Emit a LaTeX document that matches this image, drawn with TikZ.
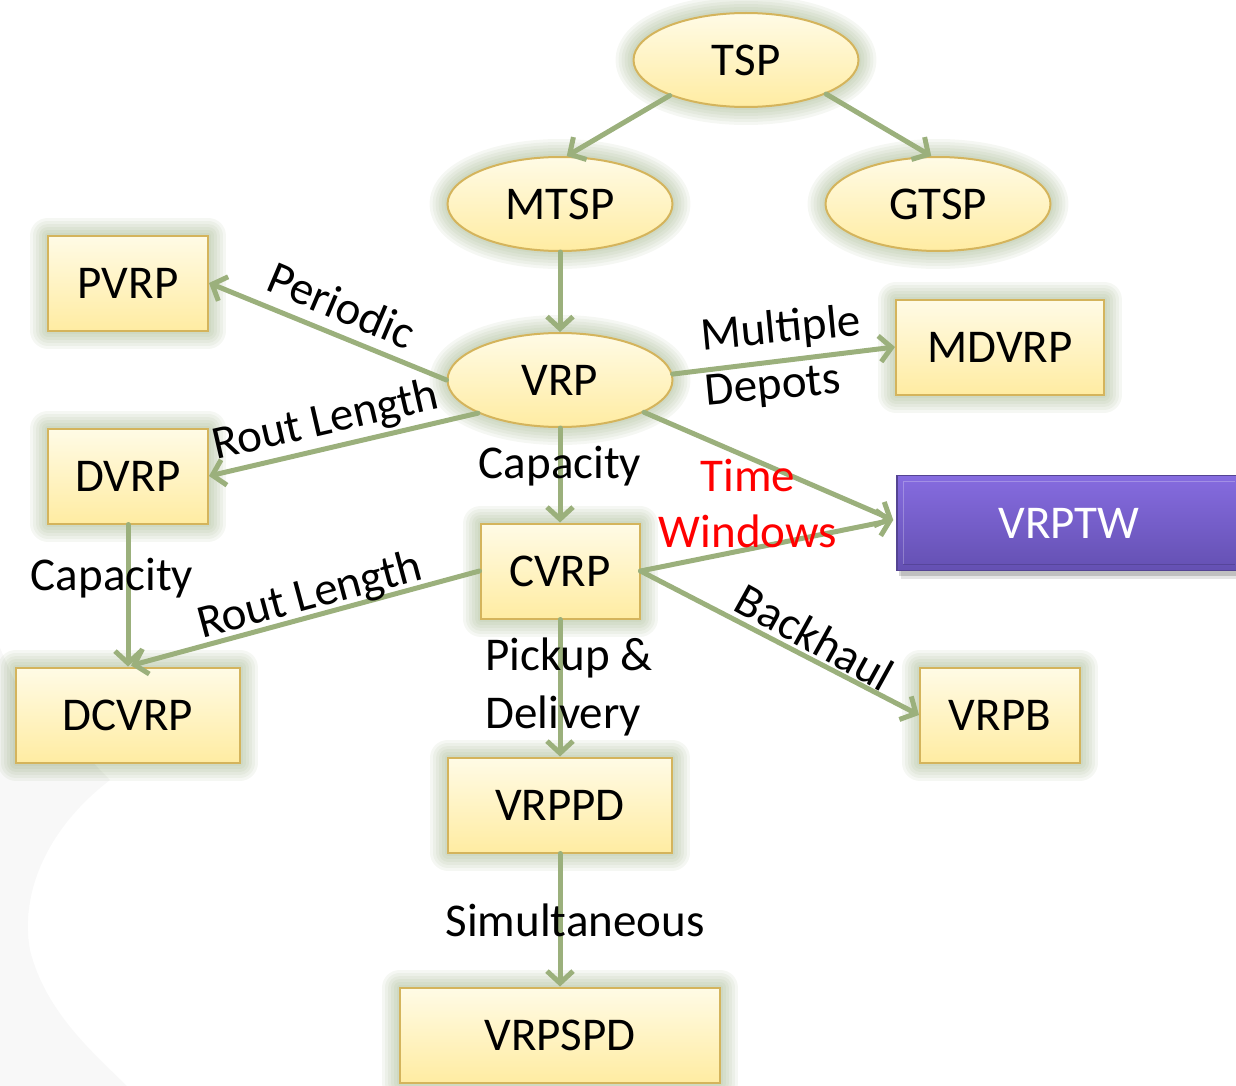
\documentclass[tikz,border=0pt]{standalone}
\usepackage{fontspec}
\setmainfont{Carlito}
\usetikzlibrary{shapes.geometric,arrows.meta,calc}

\definecolor{edgec}{RGB}{155,176,124}
\definecolor{glowc}{RGB}{130,155,100}
\definecolor{nodetop}{RGB}{255,251,230}
\definecolor{nodebot}{RGB}{255,236,162}
\definecolor{nodeborder}{RGB}{212,180,92}
\definecolor{ptop}{RGB}{134,108,224}
\definecolor{pbot}{RGB}{100,80,178}
\definecolor{pborder}{RGB}{84,68,146}
\definecolor{wash}{RGB}{248,248,248}
\definecolor{timered}{RGB}{255,0,0}

\begin{document}
\begin{tikzpicture}[x=1pt,y=-1pt,
  every node/.style={font=\fontsize{47}{56}\selectfont, inner sep=0pt},
  halo/.style={preaction={draw=glowc,line join=round,line width=#1,opacity=0.08}},
  glow/.style={halo=36pt, halo=30pt, halo=24pt, halo=18pt, halo=12pt, halo=6pt},
  topic/.style={glow, draw=nodeborder, line width=2pt, top color=nodetop, bottom color=nodebot},
  oval/.style={topic, ellipse, minimum width=225pt, minimum height=94pt},
  card/.style={topic, rectangle, minimum height=95pt},
  link/.style={draw=edgec, line width=5pt, line cap=round, line join=round,
               -{Straight Barb[length=12pt,width=26pt]}},
  tag/.style={anchor=center},
  redtag/.style={tag, text=timered},
]
\useasboundingbox (0,0) rectangle (1236,1086);
\clip (0,0) rectangle (1236,1086);

% faint wash in the lower left corner
\fill[wash] (0,648) -- (16,684) -- (110,780)
  .. controls (45,830) and (20,895) .. (30,950)
  .. controls (45,1010) and (90,1050) .. (127,1086) -- (0,1086) -- cycle;

% problem variants
\node[oval] (tsp)  at (746,60)  {TSP};
\node[oval] (mtsp) at (560,204) {MTSP};
\node[oval] (gtsp) at (938,204) {GTSP};
\node[oval] (vrp)  at (560,380) {VRP};

\node[card, minimum width=160pt] (pvrp)  at (128,283)  {PVRP};
\node[card, minimum width=208pt] (mdvrp) at (1000,347) {MDVRP};
\node[card, minimum width=160pt] (dvrp)  at (128,476)  {DVRP};
\node[card, minimum width=159pt] (cvrp)  at (560,571)  {CVRP};
\node[card, minimum width=224pt] (dcvrp) at (128,715)  {DCVRP};
\node[card, minimum width=160pt] (vrpb)  at (1000,715) {VRPB};
\node[card, minimum width=224pt] (vrppd) at (560,805)  {VRPPD};
\node[card, minimum width=320pt] (vrpspd) at (560,1035) {VRPSPD};

% highlighted variant with drop shadow and bevel
\fill[black,opacity=0.10] (901,481) rectangle (1244,579);
\fill[black,opacity=0.16] (899,479) rectangle (1242,576);
\node[rectangle, minimum width=344pt, minimum height=95pt, draw=pborder, line width=1.5pt,
      top color=ptop, bottom color=pbot, text=white] (vrptw) at (1069,523) {VRPTW};
\draw[white,opacity=0.25,line width=1pt]
  ($(vrptw.south west)+(7,-7)$) -- ($(vrptw.north west)+(7,7)$) -- ($(vrptw.north east)+(-7,7)$);
\draw[black,opacity=0.15,line width=1pt]
  ($(vrptw.south west)+(7,-7)$) -- ($(vrptw.south east)+(-7,-7)$);

% connectors
\draw[link] (tsp.205)  -- (mtsp.82);
\draw[link] (tsp.337)  -- (gtsp.98);
\draw[link] (mtsp.south) -- (vrp.north);
\draw[link] (vrp.180)  -- (pvrp.east);
\draw[link] (vrp.202)  -- (dvrp.east);
\draw[link] (vrp.3)    -- (mdvrp.west);
\draw[link] (vrp.south) -- (cvrp.north);
\draw[link] (vrp.339)  -- ($(vrptw.west)+(-3,-3)$);
\draw[link] (cvrp.east) -- ($(vrptw.west)+(-3,-3)$);
\draw[link] (cvrp.west) -- ($(dcvrp.north)+(3,-1)$);
\draw[link] (dvrp.south) -- (dcvrp.north);
\draw[link] (cvrp.east) -- (vrpb.west);
\draw[link] (cvrp.south) -- (vrppd.north);
\draw[link] (vrppd.south) -- (vrpspd.north);

% connector labels
\node[tag, rotate=-23] (lperiodic) at (342,305) {Periodic};
\node[tag, rotate=13]  (lrout1)    at (326,422) {Rout Length};
\node[tag, rotate=5.5] (lmulti)    at (781,330) {Multiple};
\node[tag, rotate=5.5] (ldepots)   at (773,388) {Depots};
\node[tag]             (lcap1)     at (560,466) {Capacity};
\node[redtag]          (ltime)     at (748,475) {Time};
\node[redtag]          (lwin)      at (748,531) {Windows};
\node[tag]             (lcap2)     at (112,578) {Capacity};
\node[tag, rotate=15]  (lrout2)    at (310,597) {Rout Length};
\node[tag, rotate=-29] (lback)     at (815,637) {Backhaul};
\node[anchor=west]     (lpick)     at (485,658) {Pickup \&};
\node[anchor=west]     (ldeliv)    at (485,716) {Delivery};
\node[tag]             (lsimul)    at (575,920) {Simultaneous};
\end{tikzpicture}
\end{document}
